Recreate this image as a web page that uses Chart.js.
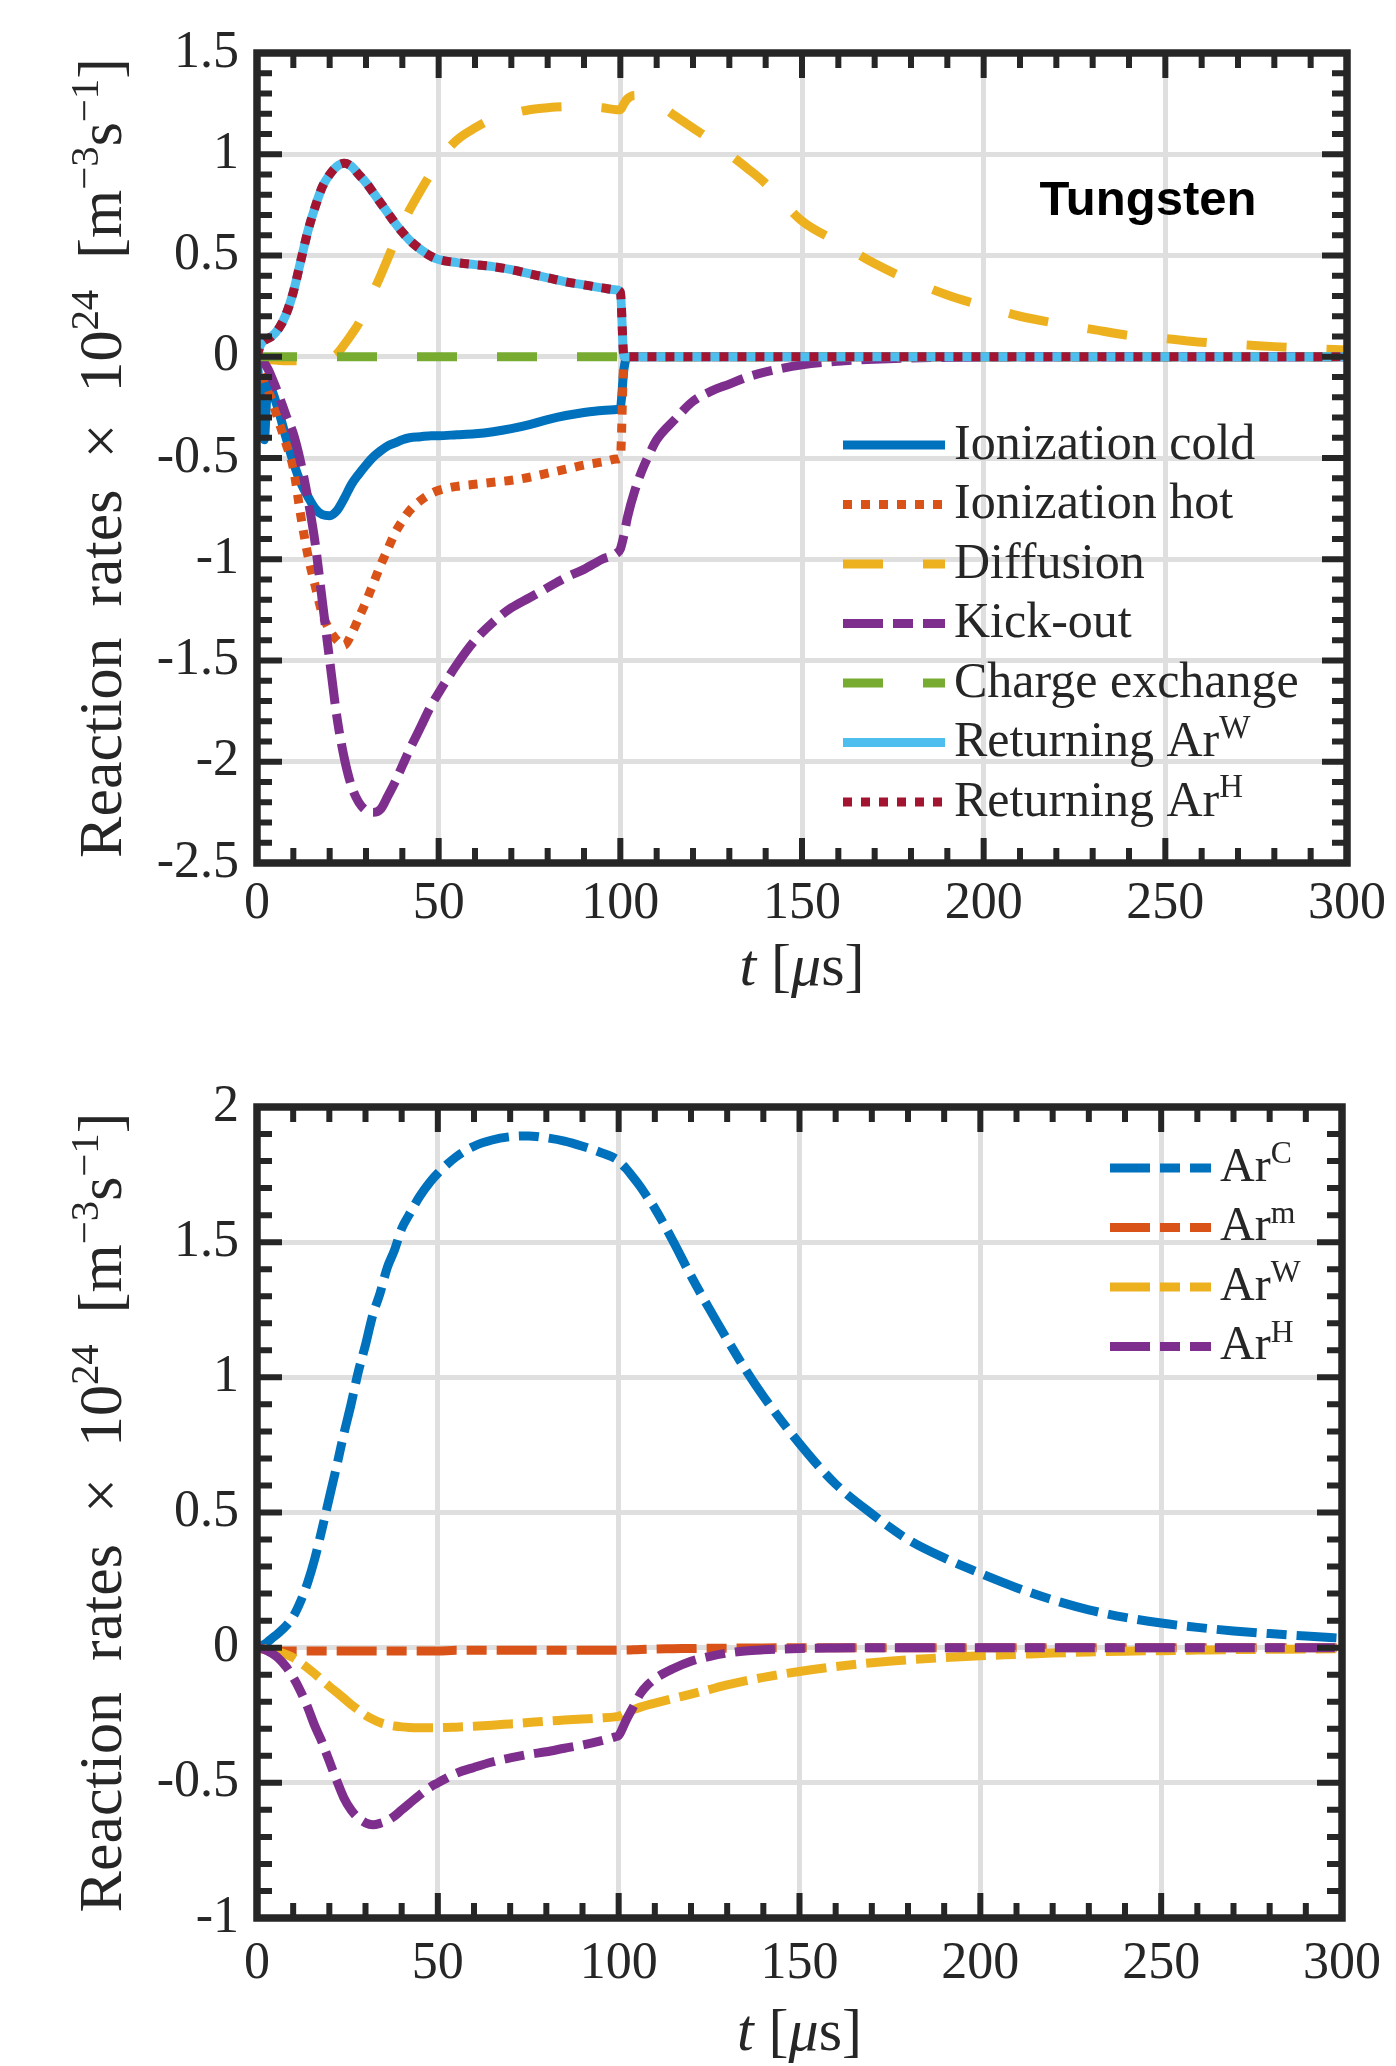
<!DOCTYPE html>
<html>
<head>
<meta charset="utf-8">
<title>Reaction rates</title>
<script src="https://cdn.jsdelivr.net/npm/chart.js@4.4.1/dist/chart.umd.min.js"></script>
<style>
    html, body { margin: 0; padding: 0; background: #ffffff; }
    .panel { position: absolute; left: 0; }
</style>
</head>
<body>
<canvas id="tungsten" class="panel" style="top:0px" width="1396" height="1033"></canvas>
<canvas id="species" class="panel" style="top:1033px" width="1396" height="1033"></canvas>
<script>
// time in microseconds, shared by both panels
var t = [0, 1, 2, 3, 4, 6, 8, 10, 12, 14, 16, 18, 20, 22, 24, 26, 28, 30, 32, 34, 36, 38, 40, 42, 45, 48, 50,
    55, 60, 65, 70, 75, 80, 85, 90, 95, 99, 100, 101, 102, 104, 106, 108, 110, 115, 120, 125, 130, 135, 140,
    150, 160, 170, 180, 190, 200, 210, 220, 230, 240, 250, 260, 270, 280, 290, 300];

// top panel (tungsten), rates x 1e24
var ionCold = [0, -0.25, -0.41, -0.12, -0.16, -0.27, -0.4, -0.52, -0.62, -0.69, -0.75, -0.78, -0.785, -0.76, -0.7, -0.63, -0.58, -0.535, -0.495, -0.465, -0.44, -0.425, -0.41, -0.4, -0.395, -0.39, -0.39,
    -0.385, -0.38, -0.37, -0.355, -0.335, -0.31, -0.29, -0.275, -0.265, -0.26, -0.25, -0.06, 0, 0, 0, 0, 0, 0, 0, 0, 0, 0, 0,
    0, 0, 0, 0, 0, 0, 0, 0, 0, 0, 0, 0, 0, 0, 0, 0];
var ionHot = [0, -0.05, -0.1, -0.16, -0.21, -0.32, -0.43, -0.55, -0.78, -0.98, -1.13, -1.27, -1.35, -1.4, -1.425, -1.37, -1.29, -1.21, -1.12, -1.03, -0.95, -0.87, -0.81, -0.76, -0.71, -0.675, -0.66,
    -0.64, -0.63, -0.62, -0.61, -0.595, -0.575, -0.555, -0.535, -0.52, -0.505, -0.5, -0.02, 0, 0, 0, 0, 0, 0, 0, 0, 0, 0, 0,
    0, 0, 0, 0, 0, 0, 0, 0, 0, 0, 0, 0, 0, 0, 0, 0];
var diffusion = [0, -0.005, -0.01, -0.012, -0.015, -0.018, -0.02, -0.02, -0.02, -0.02, -0.018, -0.012, -0.005, 0.015, 0.06, 0.11, 0.165, 0.24, 0.32, 0.4, 0.485, 0.57, 0.65, 0.725, 0.82, 0.91, 0.97,
    1.07, 1.13, 1.175, 1.2, 1.22, 1.23, 1.235, 1.235, 1.23, 1.22, 1.22, 1.25, 1.275, 1.29, 1.29, 1.275, 1.255, 1.19, 1.13, 1.07, 1.0, 0.93, 0.855,
    0.67, 0.565, 0.46, 0.375, 0.305, 0.25, 0.2, 0.165, 0.135, 0.105, 0.09, 0.072, 0.06, 0.05, 0.04, 0.033];
var kickOut = [0, -0.01, -0.03, -0.06, -0.1, -0.19, -0.29, -0.38, -0.52, -0.7, -0.92, -1.21, -1.5, -1.78, -1.98, -2.12, -2.2, -2.24, -2.25, -2.235, -2.17, -2.1, -2.02, -1.94, -1.83, -1.72, -1.66,
    -1.52, -1.4, -1.31, -1.24, -1.19, -1.14, -1.09, -1.05, -1.0, -0.97, -0.95, -0.88, -0.79, -0.66, -0.56, -0.48, -0.41, -0.31, -0.22, -0.17, -0.135, -0.1, -0.075,
    -0.04, -0.022, -0.012, -0.006, -0.003, -0.001, 0, 0, 0, 0, 0, 0, 0, 0, 0, 0];
var chargeEx = [0, 0, 0, 0, 0, 0, 0, 0, 0, 0, 0, 0, 0, 0, 0, 0, 0, 0, 0, 0, 0, 0, 0, 0, 0, 0, 0,
    0, 0, 0, 0, 0, 0, 0, 0, 0, 0, 0, 0, 0, 0, 0, 0, 0, 0, 0, 0, 0, 0, 0,
    0, 0, 0, 0, 0, 0, 0, 0, 0, 0, 0, 0, 0, 0, 0, 0];
var returnW = [0, 0.06, 0.08, 0.09, 0.1, 0.14, 0.21, 0.32, 0.47, 0.62, 0.74, 0.84, 0.9, 0.94, 0.955, 0.94, 0.9, 0.86, 0.81, 0.76, 0.71, 0.66, 0.615, 0.575, 0.53, 0.495, 0.48,
    0.465, 0.455, 0.445, 0.43, 0.41, 0.39, 0.37, 0.355, 0.34, 0.33, 0.32, 0, 0, 0, 0, 0, 0, 0, 0, 0, 0, 0, 0,
    0, 0, 0, 0, 0, 0, 0, 0, 0, 0, 0, 0, 0, 0, 0, 0];
var returnH = returnW.slice();

// bottom panel (argon species), rates x 1e24
var arC = [0, 0.005, 0.012, 0.022, 0.033, 0.055, 0.08, 0.115, 0.17, 0.24, 0.33, 0.44, 0.555, 0.67, 0.79, 0.9, 1.02, 1.12, 1.23, 1.31, 1.405, 1.47, 1.55, 1.6, 1.67, 1.725, 1.755,
    1.815, 1.855, 1.878, 1.89, 1.893, 1.886, 1.874, 1.855, 1.832, 1.81, 1.8, 1.787, 1.773, 1.74, 1.705, 1.665, 1.625, 1.505, 1.375, 1.255, 1.14, 1.03, 0.93,
    0.755, 0.605, 0.495, 0.4, 0.332, 0.275, 0.222, 0.177, 0.14, 0.112, 0.091, 0.075, 0.062, 0.052, 0.043, 0.035];
var arM = [0, -0.004, -0.007, -0.009, -0.011, -0.012, -0.012, -0.012, -0.012, -0.012, -0.012, -0.012, -0.012, -0.012, -0.012, -0.012, -0.012, -0.012, -0.012, -0.012, -0.012, -0.012, -0.012, -0.012, -0.012, -0.012, -0.012,
    -0.01, -0.01, -0.01, -0.01, -0.01, -0.01, -0.01, -0.01, -0.01, -0.01, -0.01, -0.009, -0.009, -0.008, -0.007, -0.006, -0.005, -0.004, -0.003, -0.002, -0.002, -0.001, -0.001,
    0, 0, 0, 0, 0, 0, 0, 0, 0, 0, 0, 0, 0, 0, 0, 0];
var arW = [0, -0.002, -0.004, -0.007, -0.01, -0.015, -0.025, -0.037, -0.055, -0.075, -0.097, -0.12, -0.143, -0.165, -0.187, -0.21, -0.23, -0.25, -0.265, -0.277, -0.285, -0.29, -0.293, -0.295, -0.296, -0.296, -0.296,
    -0.294, -0.291, -0.287, -0.282, -0.277, -0.272, -0.268, -0.264, -0.26, -0.256, -0.254, -0.248, -0.24, -0.23, -0.22, -0.212, -0.205, -0.188, -0.172, -0.155, -0.138, -0.123, -0.11,
    -0.088, -0.07, -0.056, -0.045, -0.037, -0.03, -0.025, -0.02, -0.016, -0.013, -0.011, -0.009, -0.007, -0.006, -0.005, -0.004];
var arH = [0, -0.002, -0.006, -0.012, -0.02, -0.04, -0.07, -0.11, -0.16, -0.22, -0.29, -0.35, -0.42, -0.49, -0.555, -0.6, -0.63, -0.648, -0.655, -0.65, -0.64, -0.623, -0.6, -0.578, -0.545, -0.515, -0.5,
    -0.465, -0.443, -0.423, -0.408, -0.395, -0.385, -0.372, -0.36, -0.345, -0.33, -0.325, -0.3, -0.27, -0.22, -0.17, -0.138, -0.115, -0.078, -0.05, -0.033, -0.02, -0.012, -0.008,
    -0.003, -0.001, 0, 0, 0, 0, 0, 0, 0, 0, 0, 0, 0, 0, 0, 0];

// tick labels
var xTicks = [0, 50, 100, 150, 200, 250, 300];
var yTicksTop = [-2.5, -2, -1.5, -1, -0.5, 0, 0.5, 1, 1.5];
var yTicksBottom = [-1, -0.5, 0, 0.5, 1, 1.5, 2];

var ink = '#262626';
var serif = '"Liberation Serif", "DejaVu Serif", serif';
var solid = [], dotted = [9, 9], dashed = [40, 40], dashDot = [40, 10, 20, 10];

Chart.defaults.font.family = serif;

function serie(label, values, color, dash, order) {
    return {
        label: label,
        data: t.map(function (x, i) { return { x: x, y: values[i] }; }),
        borderColor: color,
        backgroundColor: color,
        borderWidth: 9,
        borderDash: dash,
        borderCapStyle: 'butt',
        borderJoinStyle: 'round',
        pointRadius: 0,
        cubicInterpolationMode: 'monotone',
        fill: false,
        order: order
    };
}

function fmt(v) {
    return String(Math.round(v * 10) / 10);
}

function fontFor(kind, size) {
    if (kind === 'sup') return (size * 0.66).toFixed(1) + 'px ' + serif;
    if (kind === 'it') return 'italic ' + size + 'px ' + serif;
    return size + 'px ' + serif;
}

function runsWidth(ctx, runs, size) {
    var w = 0;
    runs.forEach(function (r) {
        ctx.font = fontFor(r[1], size);
        w += ctx.measureText(r[0]).width;
    });
    return w;
}

function drawRuns(ctx, runs, x, y, size) {
    runs.forEach(function (r) {
        ctx.font = fontFor(r[1], size);
        ctx.fillText(r[0], x, r[1] === 'sup' ? y - size * 0.37 : y);
        x += ctx.measureText(r[0]).width;
    });
}

// "Returning Ar^W" -> normal text + superscript
function labelRuns(label) {
    var p = label.split('^');
    var runs = [[p[0], '']];
    if (p[1]) runs.push([p[1], 'sup']);
    return runs;
}

// MATLAB style box: frame, inward ticks on all sides, titles, legend
var axesBox = {
    id: 'axesBox',
    afterDraw: function (chart, args, o) {
        var ctx = chart.ctx;
        var a = chart.chartArea;
        var xs = chart.scales.x;
        var ys = chart.scales.y;
        var i, p, len, n;

        ctx.save();
        ctx.strokeStyle = ink;
        ctx.lineCap = 'butt';
        ctx.lineWidth = 6;
        n = Math.round((xs.max - xs.min) / o.xMinor);
        for (i = 0; i <= n; i++) {
            p = xs.getPixelForValue(xs.min + i * o.xMinor);
            len = (i % o.every === 0) ? 25 : 15;
            ctx.beginPath();
            ctx.moveTo(p, a.bottom); ctx.lineTo(p, a.bottom - len);
            ctx.moveTo(p, a.top); ctx.lineTo(p, a.top + len);
            ctx.stroke();
        }
        n = Math.round((ys.max - ys.min) / o.yMinor);
        for (i = 0; i <= n; i++) {
            p = ys.getPixelForValue(ys.min + i * o.yMinor);
            len = (i % o.every === 0) ? 25 : 15;
            ctx.beginPath();
            ctx.moveTo(a.left, p); ctx.lineTo(a.left + len, p);
            ctx.moveTo(a.right, p); ctx.lineTo(a.right - len, p);
            ctx.stroke();
        }
        ctx.lineWidth = 7.5;
        ctx.strokeRect(a.left, a.top, a.right - a.left, a.bottom - a.top);

        // axis titles
        ctx.fillStyle = ink;
        ctx.textBaseline = 'alphabetic';
        ctx.textAlign = 'left';
        var xt = [['t', 'it'], [' [', ''], ['\u03bc', 'it'], ['s]', '']];
        var w = runsWidth(ctx, xt, 60);
        drawRuns(ctx, xt, (a.left + a.right) / 2 - w / 2, o.xTitleY, 60);

        var yt = [['Reaction  rates  \u00d7  10', ''], ['24', 'sup'], ['  [m', ''], ['\u22123', 'sup'],
            ['s', ''], ['\u22121', 'sup'], [']', '']];
        w = runsWidth(ctx, yt, 62);
        ctx.save();
        ctx.translate(o.yTitleX, (a.top + a.bottom) / 2);
        ctx.rotate(-Math.PI / 2);
        drawRuns(ctx, yt, -w / 2, 0, 62);
        ctx.restore();

        // legend
        var lg = o.legend;
        chart.data.datasets.forEach(function (ds, k) {
            var y = lg.y0 + k * lg.dy;
            ctx.save();
            ctx.strokeStyle = ds.borderColor;
            ctx.lineWidth = ds.borderWidth;
            ctx.setLineDash(ds.borderDash);
            ctx.beginPath();
            ctx.moveTo(lg.x0, y);
            ctx.lineTo(lg.x1, y);
            ctx.stroke();
            ctx.restore();
            drawRuns(ctx, labelRuns(ds.label), lg.tx, y + lg.size * 0.27, lg.size);
        });

        if (o.note) {
            ctx.font = 'bold 49px "Liberation Sans", Arial, sans-serif';
            ctx.fillStyle = '#000000';
            ctx.textAlign = 'center';
            ctx.fillText(o.note.text, o.note.x, o.note.y);
        }
        ctx.restore();
    }
};

function scales(yMin, yMax, yTicks, xPad, xHeight) {
    var tickFont = { size: 52, family: serif };
    return {
        x: {
            type: 'linear', min: 0, max: 300,
            afterBuildTicks: function (s) { s.ticks = xTicks.map(function (v) { return { value: v }; }); },
            afterFit: function (s) { s.height = xHeight; },
            grid: { color: '#dfdfdf', lineWidth: 5, drawTicks: false },
            border: { display: false },
            ticks: { font: tickFont, color: ink, padding: xPad, maxRotation: 0, autoSkip: false, callback: fmt }
        },
        y: {
            type: 'linear', min: yMin, max: yMax,
            afterBuildTicks: function (s) { s.ticks = yTicks.map(function (v) { return { value: v }; }); },
            afterFit: function (s) { s.width = 257; },
            grid: { color: '#dfdfdf', lineWidth: 5, drawTicks: false },
            border: { display: false },
            ticks: { font: tickFont, color: ink, padding: 18, autoSkip: false, callback: fmt }
        }
    };
}

function gerar(id, datasets, sc, padTop, box) {
    new Chart(document.getElementById(id).getContext('2d'), {
        type: 'line',
        data: { datasets: datasets },
        options: {
            responsive: false,
            animation: false,
            devicePixelRatio: 1,
            layout: { padding: { top: padTop, right: 49, left: 0, bottom: 0 } },
            scales: sc,
            plugins: {
                legend: { display: false },
                tooltip: { enabled: false },
                axesBox: box
            }
        },
        plugins: [axesBox]
    });
}

gerar('tungsten', [
    serie('Ionization cold', ionCold, '#0072BD', solid, 10),
    serie('Ionization hot', ionHot, '#D95319', dotted, 9),
    serie('Diffusion', diffusion, '#EDB120', dashed, 8),
    serie('Kick-out', kickOut, '#7E2F8E', dashDot, 7),
    serie('Charge exchange', chargeEx, '#77AC30', dashed, 6),
    serie('Returning Ar^W', returnW, '#4DBEEE', solid, 5),
    serie('Returning Ar^H', returnH, '#A2142F', dotted, 4)
], scales(-2.5, 1.5, yTicksTop, 10, 170), 53, {
    xMinor: 10, yMinor: 0.1, every: 5,
    xTitleY: 985, yTitleX: 121,
    legend: { x0: 843, x1: 945, tx: 954, y0: 445, dy: 59.5, size: 50 },
    note: { text: 'Tungsten', x: 1148, y: 215 }
});

gerar('species', [
    serie('Ar^C', arC, '#0072BD', dashDot, 10),
    serie('Ar^m', arM, '#D95319', dashDot, 9),
    serie('Ar^W', arW, '#EDB120', dashDot, 8),
    serie('Ar^H', arH, '#7E2F8E', dashDot, 7)
], scales(-1, 2, yTicksBottom, 15, 148), 74, {
    xMinor: 10, yMinor: 0.1, every: 5,
    xTitleY: 1017, yTitleX: 121,
    legend: { x0: 1110, x1: 1211, tx: 1220, y0: 135, dy: 59.5, size: 48 },
    note: null
});
</script>
</body>
</html>
